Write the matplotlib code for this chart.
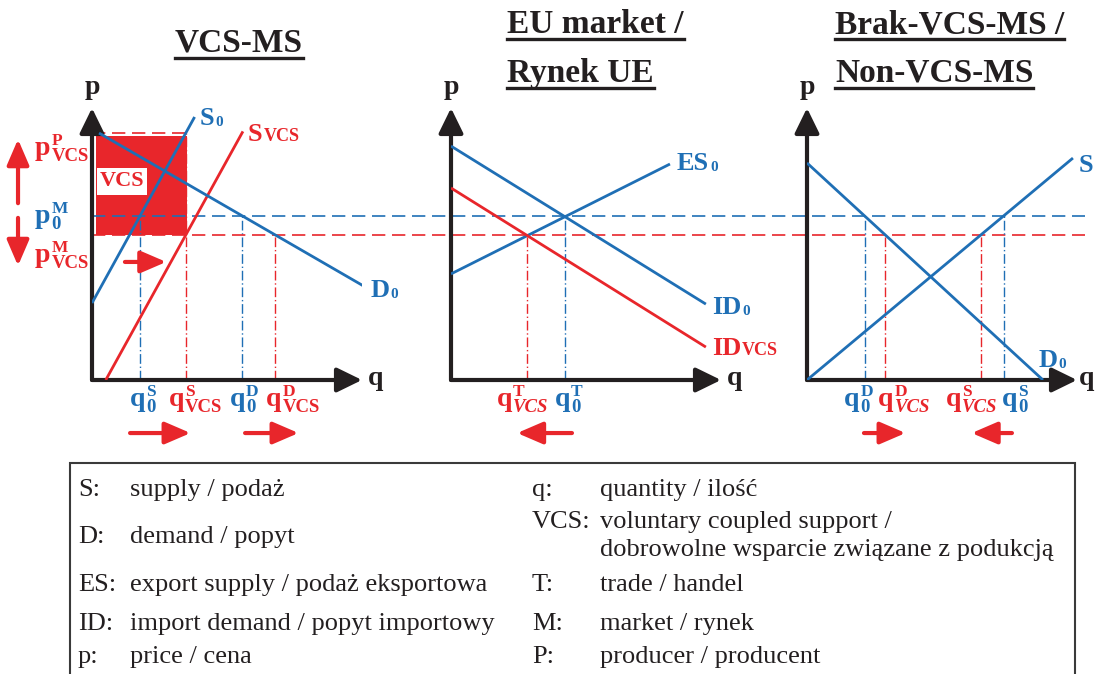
import matplotlib.pyplot as plt
from matplotlib.patches import Rectangle
from matplotlib.lines import Line2D
from matplotlib.transforms import blended_transform_factory

# shared price levels (same p scale in all three panels)
p0_m = 6.03
pvcs_m = 5.33
pvcs_p = 9.08

# VCS member state
ms_s0_q = [0.0, 3.8]
ms_s0_p = [2.83, 9.67]
ms_svcs_q = [0.51, 5.59]
ms_svcs_p = [0.0, 9.14]
ms_d0_q = [0.26, 10.19]
ms_d0_p = [9.08, 3.38]
ms_q0_s, ms_qvcs_s, ms_q0_d, ms_qvcs_d = 1.78, 3.47, 5.57, 6.79

# EU market
eu_es0_q = [0.0, 8.11]
eu_es0_p = [3.90, 7.94]
eu_id0_q = [0.0, 9.44]
eu_id0_p = [8.60, 2.79]
eu_idvcs_q = [0.0, 9.44]
eu_idvcs_p = [7.06, 1.21]
eu_q0_t, eu_qvcs_t = 4.22, 2.83

# non-VCS member state
nv_s_q = [0.0, 9.85]
nv_s_p = [0.0, 8.16]
nv_d0_q = [0.0, 8.74]
nv_d0_p = [7.98, 0.0]
nv_q0_d, nv_qvcs_d, nv_qvcs_s, nv_q0_s = 2.14, 2.90, 6.44, 7.28

legend_left = [('S:', 'supply / podaż'), ('D:', 'demand / popyt'),
               ('ES:', 'export supply / podaż eksportowa'),
               ('ID:', 'import demand / popyt importowy'), ('p:', 'price / cena')]
legend_right = [('q:', 'quantity / ilość'),
                ('VCS:', 'voluntary coupled support /'),
                ('', 'dobrowolne wsparcie związane z podukcją'),
                ('T:', 'trade / handel'), ('M:', 'market / rynek'), ('P:', 'producer / producent')]

BLUE = '#1f6fb5'
RED = '#e8262b'
BLACK = '#231f20'

plt.rcParams['font.family'] = ['Liberation Serif', 'DejaVu Serif']

W, H = 1095, 674


def fx(x):
    return x / W


def fy(y):
    return 1 - y / H


fig = plt.figure(figsize=(W / 100, H / 100), dpi=100)


def panel(x0, qx=10.5):
    ax = fig.add_axes([fx(x0), fy(380), 270 / W, 272 / H])
    ax.set_xlim(0, 10)
    ax.set_ylim(0, 10)
    ax.axis('off')
    for tip in [(10, 0), (0, 10)]:
        ax.annotate('', xy=tip, xytext=(0, 0), annotation_clip=False,
                    arrowprops=dict(arrowstyle='-|>,head_length=0.45,head_width=0.22',
                                    color=BLACK, lw=3, mutation_scale=34,
                                    shrinkA=0, shrinkB=0))
    ax.text(0, 10.75, 'p', fontsize=20, fontweight='bold', color=BLACK,
            ha='center', va='center')
    ax.text(qx, 0.05, 'q', fontsize=20, fontweight='bold', color=BLACK,
            ha='center', va='center')
    return ax


def red_arrow(ax, x1, y1, x2, y2):
    ax.annotate('', xy=(x2, y2), xytext=(x1, y1), annotation_clip=False,
                arrowprops=dict(arrowstyle='-|>,head_length=0.65,head_width=0.28',
                                color=RED, lw=3, mutation_scale=24,
                                shrinkA=0, shrinkB=0))


def vline(ax, q, p, color):
    ax.plot([q, q], [0, p], color=color, lw=1, ls=(0, (7, 2, 1, 2)), zorder=2)


def script_label(ax, x, y, base, color, sub='', sup='', size=20, sub_size=13.5,
                 sup_size=12.5, sub_dy=-4, sup_dy=7, sub_style='normal'):
    t = ax.text(x, y, base, fontsize=size, fontweight='bold', color=color,
                ha='left', va='baseline', zorder=5)
    kw = dict(xycoords=(t, 'data'), textcoords='offset points', fontweight='bold',
              color=color, ha='left', va='baseline', annotation_clip=False, zorder=5)
    if sup:
        ax.annotate(sup, xy=(1, y), xytext=(0.6, sup_dy), fontsize=sup_size, **kw)
    if sub:
        ax.annotate(sub, xy=(1, y), xytext=(0.6, sub_dy), fontsize=sub_size,
                    fontstyle=sub_style, **kw)


def curve_label(ax, x, y, base, sub, color, small_caps=False):
    if small_caps:
        script_label(ax, x, y, base, color, sub=sub, size=19, sub_size=13, sub_dy=0)
    else:
        script_label(ax, x, y, base, color, sub=sub, size=19, sub_size=11, sub_dy=-1)


curve = dict(lw=2, solid_capstyle='butt', zorder=3)

# ---- panel 1: VCS-MS
ax1 = panel(92)
ax1.add_patch(Rectangle((0.15, pvcs_m), ms_qvcs_s + 0.03 - 0.15, pvcs_p - 0.1 - pvcs_m,
                        fc=RED, ec='none', lw=0, zorder=1))
ax1.add_patch(Rectangle((0.19, 6.8), 1.85, 0.99, fc='white', ec='none', lw=0, zorder=2))
ax1.text(1.11, 7.3, 'VCS', color=RED, fontsize=16, fontweight='bold',
         ha='center', va='center', zorder=4)
ax1.plot(ms_s0_q, ms_s0_p, color=BLUE, **curve)
ax1.plot(ms_svcs_q, ms_svcs_p, color=RED, **curve)
ax1.plot(ms_d0_q, ms_d0_p, color=BLUE, **curve)
ax1.plot([0, ms_qvcs_s], [pvcs_p, pvcs_p], color=RED, lw=1.2, ls=(0, (8, 4)), zorder=2)
vline(ax1, ms_q0_s, p0_m, BLUE)
vline(ax1, ms_qvcs_s, pvcs_p, RED)
vline(ax1, ms_q0_d, p0_m, BLUE)
vline(ax1, ms_qvcs_d, pvcs_m, RED)
curve_label(ax1, 4.0, 9.38, 'S', '0', BLUE)
curve_label(ax1, 5.78, 8.79, 'S', 'VCS', RED, small_caps=True)
curve_label(ax1, 10.3, 3.05, 'D', '0', BLUE)
script_label(ax1, 1.41, -0.96, 'q', BLUE, sub='0', sup='S')
script_label(ax1, 2.85, -0.96, 'q', RED, sub='VCS', sup='S')
script_label(ax1, 5.11, -0.96, 'q', BLUE, sub='0', sup='D')
script_label(ax1, 6.45, -0.96, 'q', RED, sub='VCS', sup='D')
script_label(ax1, -2.11, 8.27, 'p', RED, sub='VCS', sup='P')
script_label(ax1, -2.11, 5.77, 'p', BLUE, sub='0', sup='M')
script_label(ax1, -2.11, 4.34, 'p', RED, sub='VCS', sup='M')
red_arrow(ax1, -2.74, 6.5, -2.74, 8.85)
red_arrow(ax1, -2.74, 5.96, -2.74, 4.2)
red_arrow(ax1, 1.22, 4.34, 2.75, 4.34)
red_arrow(ax1, 1.41, -1.95, 3.65, -1.95)
red_arrow(ax1, 5.67, -1.95, 7.65, -1.95)

# shared price lines across all panels
trans = blended_transform_factory(fig.transFigure, ax1.transData)
ax1.plot([fx(92), fx(1085)], [p0_m, p0_m], color=BLUE, lw=1.2, ls=(0, (8, 4)),
         transform=trans, clip_on=False, zorder=2)
ax1.plot([fx(92), fx(1085)], [pvcs_m, pvcs_m], color=RED, lw=1.2, ls=(0, (8, 4)),
         transform=trans, clip_on=False, zorder=2)

# ---- panel 2: EU market
ax2 = panel(451)
ax2.plot(eu_es0_q, eu_es0_p, color=BLUE, **curve)
ax2.plot(eu_id0_q, eu_id0_p, color=BLUE, **curve)
ax2.plot(eu_idvcs_q, eu_idvcs_p, color=RED, **curve)
vline(ax2, eu_q0_t, p0_m, BLUE)
vline(ax2, eu_qvcs_t, pvcs_m, RED)
curve_label(ax2, 8.37, 7.72, 'ES', '0', BLUE)
curve_label(ax2, 9.67, 2.43, 'ID', '0', BLUE)
curve_label(ax2, 9.67, 0.92, 'ID', 'VCS', RED, small_caps=True)
script_label(ax2, 1.7, -0.96, 'q', RED, sub='VCS', sup='T', sub_style='italic')
script_label(ax2, 3.85, -0.96, 'q', BLUE, sub='0', sup='T')
red_arrow(ax2, 4.48, -1.95, 2.45, -1.95)

# ---- panel 3: non-VCS-MS
ax3 = panel(807, qx=10.35)
ax3.plot(nv_s_q, nv_s_p, color=BLUE, **curve)
ax3.plot(nv_d0_q, nv_d0_p, color=BLUE, **curve)
vline(ax3, nv_q0_d, p0_m, BLUE)
vline(ax3, nv_qvcs_d, pvcs_m, RED)
vline(ax3, nv_qvcs_s, pvcs_m, RED)
vline(ax3, nv_q0_s, p0_m, BLUE)
ax3.text(10.07, 7.65, 'S', color=BLUE, fontsize=19, fontweight='bold', va='baseline')
curve_label(ax3, 8.56, 0.48, 'D', '0', BLUE)
script_label(ax3, 1.38, -0.96, 'q', BLUE, sub='0', sup='D')
script_label(ax3, 2.64, -0.96, 'q', RED, sub='VCS', sup='D', sub_style='italic')
script_label(ax3, 5.15, -0.96, 'q', RED, sub='VCS', sup='S', sub_style='italic')
script_label(ax3, 7.22, -0.96, 'q', BLUE, sub='0', sup='S')
red_arrow(ax3, 2.11, -1.95, 3.65, -1.95)
red_arrow(ax3, 7.59, -1.95, 6.1, -1.95)

# ---- titles (underlined)
titles = [(175, 52, 'VCS-MS'), (507, 33, 'EU market /'), (507, 82, 'Rynek UE'),
          (835, 33, 'Brak-VCS-MS /'), (835, 82, 'Non-VCS-MS')]
title_objs = []
for x, y, s in titles:
    t = fig.text(fx(x), fy(y), s, fontsize=24, fontweight='bold', color=BLACK,
                 ha='left', va='baseline')
    title_objs.append((t, y))

# ---- legend box
fig.patches.append(Rectangle((fx(70), fy(700)), fx(1075) - fx(70), fy(463) - fy(700),
                             transform=fig.transFigure, fill=False, ec='#3a3a3a', lw=1.5))
rows_left = [490, 537, 585, 624, 657]
rows_right = [490, 522, 550, 585, 624, 657]
for (k, v), y in zip(legend_left, rows_left):
    fig.text(fx(78), fy(y), k, fontsize=19, color=BLACK, va='center')
    fig.text(fx(130), fy(y), v, fontsize=19, color=BLACK, va='center')
for (k, v), y in zip(legend_right, rows_right):
    fig.text(fx(532), fy(y), k, fontsize=19, color=BLACK, va='center')
    fig.text(fx(600), fy(y), v, fontsize=19, color=BLACK, va='center')

fig.canvas.draw()
r = fig.canvas.get_renderer()
for t, y in title_objs:
    bb = t.get_window_extent(r)
    yy = fy(y + 6)
    fig.add_artist(Line2D([bb.x0 / W, bb.x1 / W], [yy, yy], transform=fig.transFigure,
                          color=BLACK, lw=2.4))

fig.savefig('out.png', dpi=100)
